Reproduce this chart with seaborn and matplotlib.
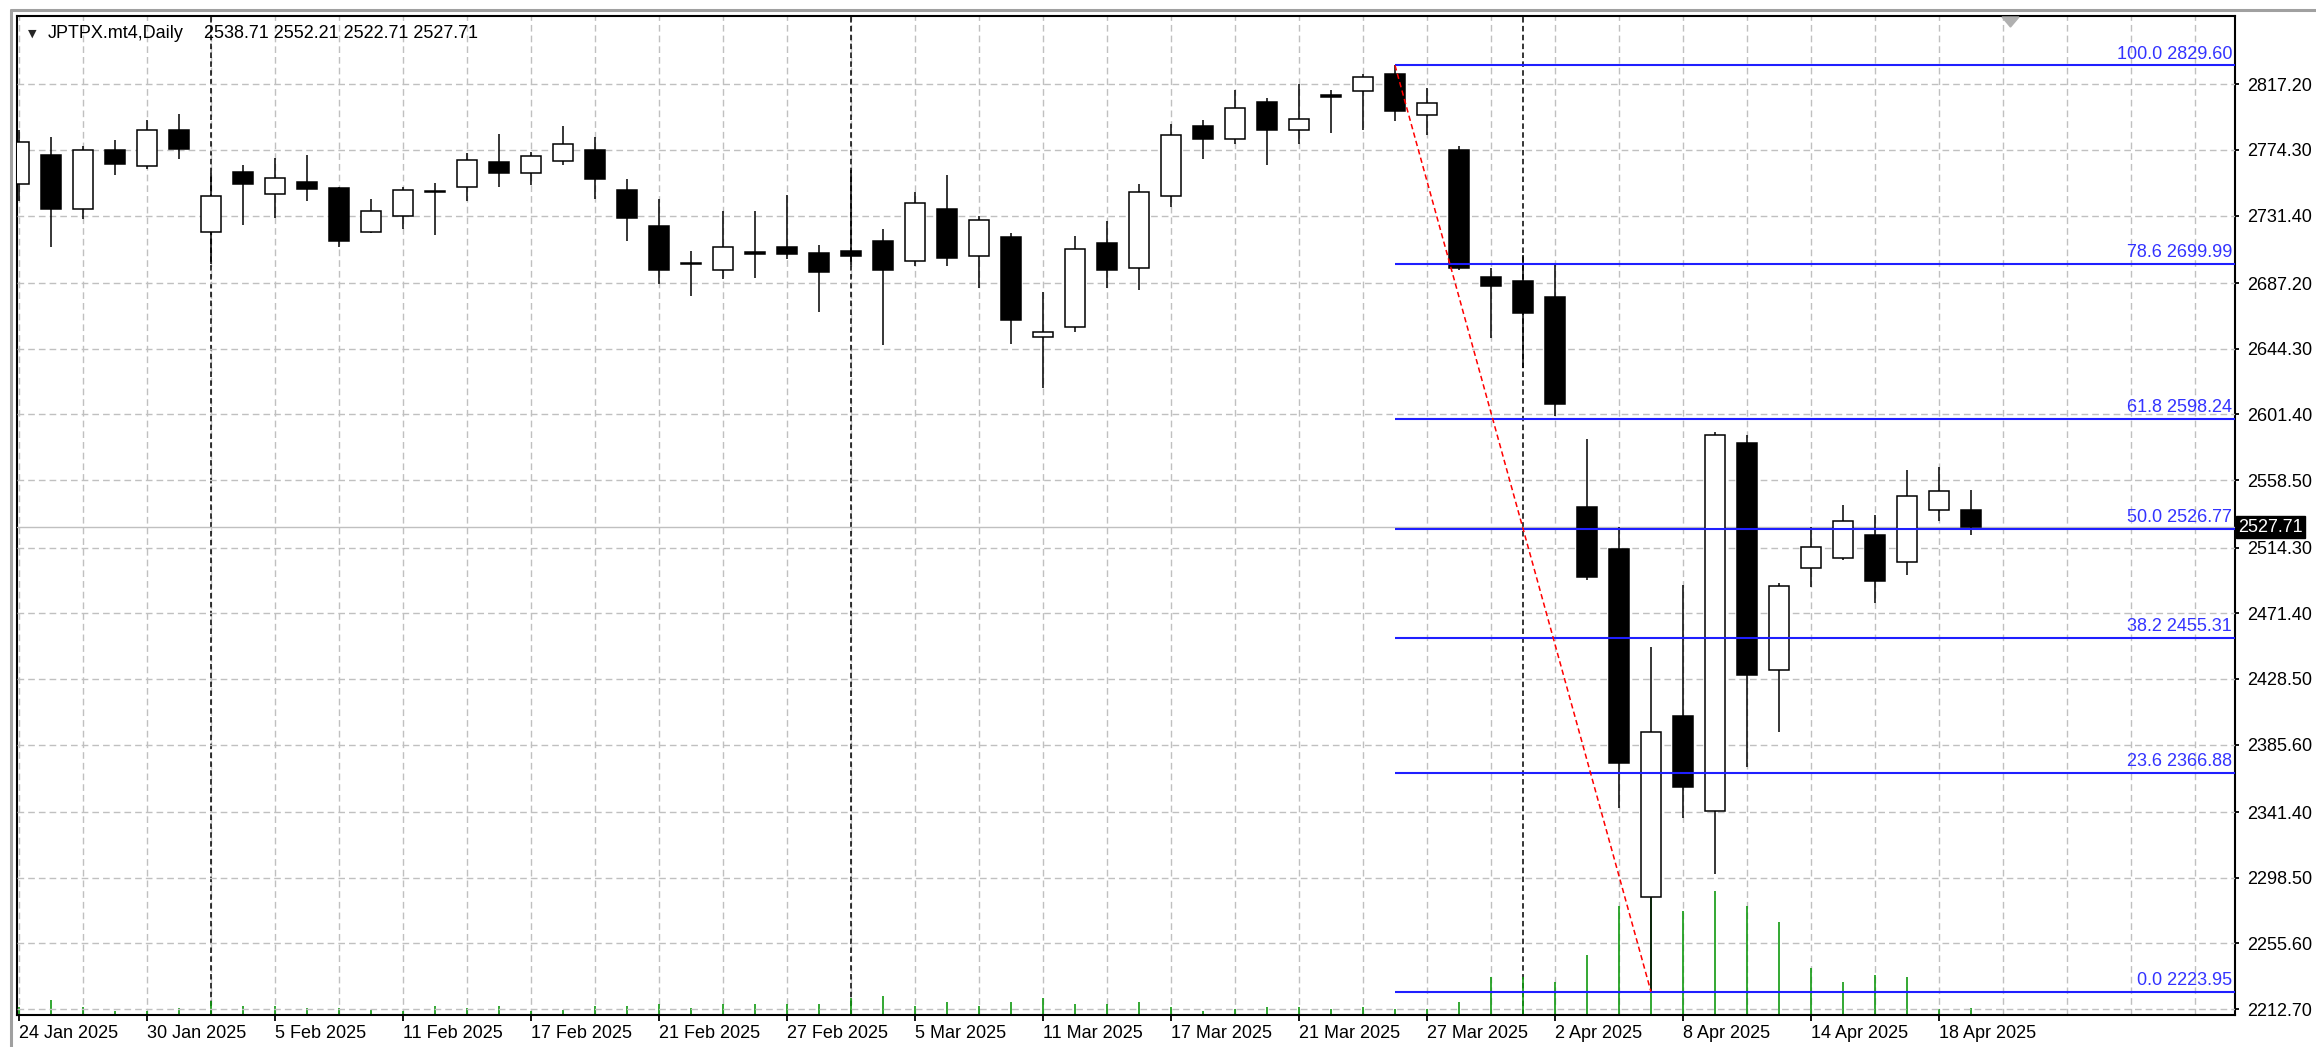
import matplotlib
matplotlib.use("Agg")
import matplotlib.pyplot as plt
import matplotlib.transforms as mtransforms
from matplotlib.lines import Line2D
from matplotlib.patches import Polygon
import numpy as np
import pandas as pd
import seaborn as sns

# chart data
symbol = "JPTPX.mt4,Daily"
dates = pd.bdate_range("2025-01-24", "2025-04-21")

opens = [2751.8, 2770.7, 2736.0, 2774.1, 2763.7, 2787.5, 2720.4, 2760.0, 2745.3, 2753.6,
         2749.7, 2720.4, 2730.8, 2747.0, 2750.3, 2766.3, 2759.4, 2767.0, 2774.1, 2748.1,
         2724.8, 2700.7, 2696.0, 2707.8, 2710.8, 2706.9, 2708.2, 2714.7, 2701.5, 2735.4,
         2704.9, 2717.3, 2651.9, 2658.4, 2713.4, 2697.4, 2744.3, 2789.7, 2781.7, 2805.5,
         2787.1, 2810.3, 2813.1, 2823.7, 2797.3, 2774.2, 2691.3, 2688.7, 2678.3, 2541.0,
         2513.3, 2285.7, 2404.2, 2342.2, 2583.0, 2434.1, 2501.0, 2507.4, 2522.4, 2504.8,
         2539.1, 2538.71]
highs = [2787.5, 2782.6, 2777.1, 2781.0, 2794.0, 2797.9, 2759.4, 2764.2, 2769.1, 2770.7,
         2750.3, 2742.1, 2750.3, 2752.9, 2772.4, 2784.9, 2772.8, 2790.1, 2782.6, 2755.1,
         2742.1, 2708.1, 2734.5, 2734.5, 2744.7, 2711.9, 2761.2, 2722.7, 2747.1, 2757.7,
         2731.3, 2719.9, 2681.1, 2718.3, 2727.6, 2752.3, 2791.2, 2794.1, 2813.5, 2808.1,
         2817.2, 2813.3, 2823.9, 2829.6, 2814.6, 2776.8, 2697.2, 2705.4, 2700.0, 2585.6,
         2527.5, 2449.3, 2490.1, 2590.0, 2588.2, 2490.9, 2527.5, 2542.5, 2535.8, 2565.0,
         2567.0, 2552.21]
lows = [2741.0, 2710.7, 2729.1, 2757.9, 2762.0, 2768.5, 2699.9, 2725.4, 2729.7, 2741.0,
        2710.7, 2720.0, 2722.6, 2718.9, 2741.0, 2750.3, 2751.4, 2764.4, 2742.1, 2715.0,
        2686.9, 2678.9, 2690.1, 2690.5, 2703.2, 2668.6, 2698.9, 2646.5, 2698.2, 2698.2,
        2684.2, 2647.6, 2618.9, 2655.6, 2684.2, 2682.7, 2736.7, 2768.5, 2778.5, 2764.4,
        2778.5, 2785.2, 2787.6, 2793.0, 2784.3, 2695.6, 2651.3, 2631.8, 2600.5, 2493.2,
        2344.3, 2223.95, 2337.8, 2300.9, 2370.6, 2394.1, 2488.3, 2506.1, 2478.0, 2496.6,
        2531.4, 2522.71]
closes = [2779.3, 2736.0, 2774.1, 2764.8, 2787.5, 2774.6, 2744.2, 2751.8, 2756.1, 2749.0,
          2715.0, 2734.1, 2748.1, 2747.4, 2767.4, 2759.4, 2770.2, 2778.2, 2755.5, 2729.5,
          2696.0, 2700.0, 2710.7, 2706.5, 2706.5, 2694.6, 2704.9, 2696.1, 2739.3, 2703.6,
          2728.7, 2663.2, 2655.0, 2709.3, 2696.1, 2746.9, 2784.3, 2781.7, 2801.6, 2787.1,
          2794.7, 2809.2, 2822.2, 2799.9, 2805.3, 2697.2, 2685.5, 2667.5, 2608.5, 2495.3,
          2373.2, 2393.8, 2357.7, 2588.2, 2431.3, 2489.3, 2514.6, 2531.4, 2492.7, 2548.2,
          2551.3, 2527.71]
tick_volume = [25, 45, 25, 13, 13, 20, 43, 26, 26, 20,
               20, 16, 13, 26, 20, 26, 13, 16, 26, 26,
               33, 20, 33, 33, 33, 33, 50, 56, 26, 38,
               26, 38, 50, 33, 33, 38, 23, 13, 18, 25,
               25, 19, 25, 19, 19, 38, 115, 115, 98, 181,
               328, 420, 313, 373, 328, 278, 140, 98, 121, 115,
               18, 20]

price_ticks = [2212.70, 2255.60, 2298.50, 2341.40, 2385.60, 2428.50, 2471.40, 2514.30,
               2558.50, 2601.40, 2644.30, 2687.20, 2731.40, 2774.30, 2817.20]
fib_levels = ["0.0", "23.6", "38.2", "50.0", "61.8", "78.6", "100.0"]
fib_prices = [2223.95, 2366.88, 2455.31, 2526.77, 2598.24, 2699.99, 2829.60]

df = pd.DataFrame({"date": dates, "open": opens, "high": highs, "low": lows,
                   "close": closes, "volume": tick_volume})
df["x"] = np.arange(len(df))
last = df.iloc[-1]

sns.set_theme(style="white")
plt.rcParams["font.family"] = ["Liberation Sans", "DejaVu Sans"]

W, H = 2316, 1047
fig = plt.figure(figsize=(W / 100, H / 100), dpi=100)
fig.patch.set_facecolor("white")
left, right, top, bottom = 17, 2235, 16, 1015
axv = fig.add_axes([left / W, 1 - bottom / H, (right - left) / W, (bottom - top) / H])
ax = axv.twinx()

grid_kw = dict(color="#c0c0c0", linestyle=(0, (4.8, 2.9)), linewidth=1)
xmax = 69.25
axv.set_xlim(-0.0625, xmax)
axv.set_ylim(0, 2997)
ax.set_ylim(2208.78, 2861.85)

# x axis: labels every 4 bars, grid every 2 bars
axv.set_xticks(df["x"][::4])
axv.set_xticklabels([d.strftime("%-d %b %Y") for d in df["date"][::4]], ha="left")
axv.set_xticks(np.arange(0, 70, 2), minor=True)
axv.grid(axis="x", which="both", **grid_kw)
axv.set_axisbelow(True)
axv.set_yticks([])
axv.tick_params(axis="x", which="major", bottom=True, direction="out", length=4, width=1.3,
                color="black", pad=3, labelsize=13, labelcolor="black")
axv.tick_params(axis="x", which="minor", bottom=True, length=0)
for s in axv.spines.values():
    s.set_color("black")
    s.set_linewidth(1.5)
for s in ax.spines.values():
    s.set_visible(False)

# month separators
month_start = df.index[df["date"].dt.month != df["date"].dt.month.shift()][1:]
for i in month_start:
    axv.axvline(i, color="black", linestyle=(0, (3.6, 2.2)), linewidth=1.1, zorder=1.5)

# volumes
axv.vlines(df["x"], 0, df["volume"], color="#109a10", linewidth=1.2, zorder=2)

# price axis on the right
ax.set_yticks(price_ticks)
ax.set_yticklabels([f"{v:.2f}" for v in price_ticks])
ax.grid(axis="y", **grid_kw)
ax.set_axisbelow(True)
ax.tick_params(axis="y", right=True, direction="out", length=3, width=1.3, color="black",
               pad=5.5, labelsize=13, labelcolor="black")

# current price line
ax.axhline(last["close"], color="#c0c0c0", linewidth=1, zorder=1.5)

# candles
up = df["close"] >= df["open"]
ax.vlines(df["x"], df["low"], df["high"], color="black", linewidth=1.1, zorder=3)
ax.bar(df["x"], (df["close"] - df["open"]).abs(), bottom=df[["open", "close"]].min(axis=1),
       width=0.62, color=np.where(up, "white", "black"), edgecolor="black",
       linewidth=1.1, zorder=4)

# fibonacci retracement
i_hi = int(df["high"].idxmax())
i_lo = int(df["low"].idxmin())
ax.hlines(fib_prices, i_hi, xmax, color="#1f1fff", linewidth=1.5, zorder=5)
blend = mtransforms.blended_transform_factory(ax.transAxes, ax.transData)
for lvl, p in zip(fib_levels, fib_prices):
    ax.annotate(f"{lvl} {p:.2f}", xy=(1, p), xycoords=blend, xytext=(-2, 2),
                textcoords="offset points", ha="right", va="bottom",
                color="#3333ff", fontsize=13, zorder=6)
sns.lineplot(x=[i_hi, i_lo], y=[df["high"][i_hi], df["low"][i_lo]], ax=ax,
             color="red", linewidth=1.1, linestyle=(0, (3.5, 2.2)), zorder=6)

# last price box
ax.annotate(f"{last['close']:.2f}", xy=(1, last["close"]), xycoords=blend,
            xytext=(2.5, 0), textcoords="offset points", ha="left", va="center",
            color="white", fontsize=13, annotation_clip=False,
            bbox=dict(boxstyle="square,pad=0.12", fc="black", ec="black"))

# header
fig.text(28 / W, 1 - 34 / H, "\u25bc", fontsize=8, family="DejaVu Sans", va="center")
fig.text(48 / W, 1 - 34 / H, symbol, fontsize=13, va="center", color="black")
fig.text(204 / W, 1 - 34 / H,
         f"{last['open']:.2f} {last['high']:.2f} {last['low']:.2f} {last['close']:.2f}",
         fontsize=13, va="center", color="black")

# window frame and chart shift marker
fig.add_artist(Line2D([10.5 / W, 1], [1 - 9.5 / H, 1 - 9.5 / H], color="#a0a0a0", linewidth=2.2))
fig.add_artist(Line2D([10.5 / W, 10.5 / W], [0, 1 - 9.5 / H], color="#a0a0a0", linewidth=2.2))
fig.add_artist(Polygon([[2002 / W, 1 - 17 / H], [2019 / W, 1 - 17 / H], [2010.5 / W, 1 - 27 / H]],
                       closed=True, transform=fig.transFigure, color="#b0b0b0"))

fig.savefig("out.png", dpi=100)
